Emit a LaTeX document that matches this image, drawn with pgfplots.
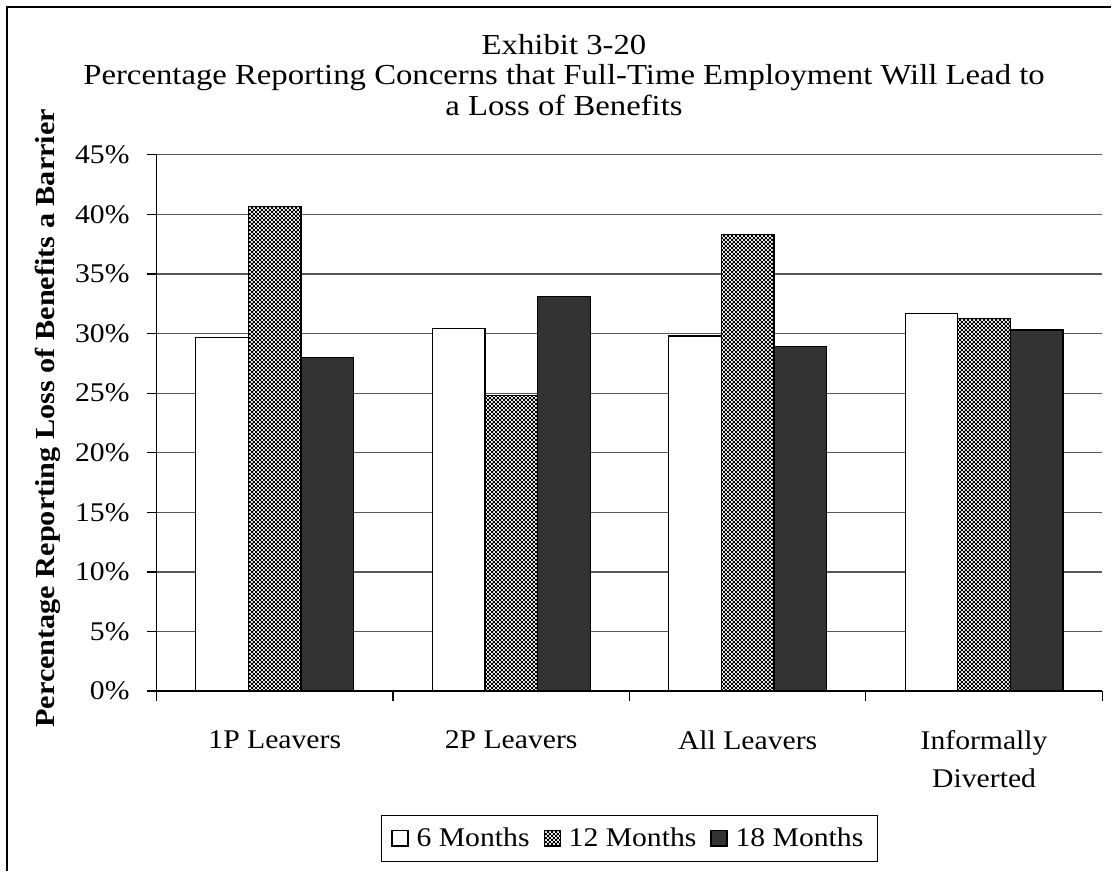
\documentclass[border=0pt]{standalone}
\usepackage{fontspec}
\setmainfont{Liberation Serif}[FakeStretch=1.1]
\newfontfamily\titlefont{Liberation Serif}[FakeStretch=1.13]
\usepackage{pgfplots}
\pgfplotsset{compat=1.18}
\usetikzlibrary{patterns}
\pgfdeclarepatternformonly{finechecker}{\pgfpointorigin}{\pgfqpoint{2bp}{2bp}}{\pgfqpoint{2bp}{2bp}}{%
  \pgfpathrectangle{\pgfpointorigin}{\pgfqpoint{1.1bp}{1.1bp}}%
  \pgfpathrectangle{\pgfqpoint{1bp}{1bp}}{\pgfqpoint{1.1bp}{1.1bp}}%
  \pgfusepath{fill}}
\definecolor{darkbar}{HTML}{333333}
\pgfplotstableread{
x  m6   m12  m18
0  29.7 40.7 28.0
1  30.4 24.8 33.1
2  29.8 38.3 28.9
3  31.7 31.3 30.3
}\datatable
\begin{document}
\begin{tikzpicture}
\path (0bp,0bp) rectangle (556bp,436bp);
\draw[line width=1bp] (3.5bp,0bp) -- (3.5bp,432.5bp) -- (556bp,432.5bp);
\node[font=\titlefont\fontsize{14.5bp}{15bp}\selectfont, anchor=base, inner sep=0pt] at (282.25bp,408.85bp) {Exhibit 3-20};
\node[font=\titlefont\fontsize{14.5bp}{15bp}\selectfont, anchor=base, inner sep=0pt] at (282.25bp,393.5bp) {Percentage Reporting Concerns that Full-Time Employment Will Lead to};
\node[font=\titlefont\fontsize{14.5bp}{15bp}\selectfont, anchor=base, inner sep=0pt] at (282.25bp,378.15bp) {a Loss of Benefits};
\begin{axis}[
  at={(78.35bp,90.15bp)}, anchor=south west,
  scale only axis, width=473.3bp, height=268.35bp,
  ybar=0pt, bar width=0.2226,
  ymin=0, ymax=45, xmin=-0.5, xmax=3.5,
  ytick={0,5,...,45},
  yticklabel={\pgfmathparse{int(round(\tick))}\pgfmathresult\%},
  xtick={-0.5,0.5,1.5,2.5,3.5},
  xticklabels={1P Leavers,2P Leavers,All Leavers,{Informally\\Diverted}},
  x tick label as interval,
  axis x line*=bottom, axis y line*=left,
  axis line style={black, line width=0.7bp, -},
  ymajorgrids, grid style={black!65, line width=0.6bp},
  tick align=outside, major tick length=5bp,
  tick style={black, line width=0.6bp},
  yticklabel shift=8.35bp,
  yticklabel style={font=\fontsize{13.5bp}{16bp}\selectfont, inner sep=0pt, anchor=east},
  xticklabel style={font=\fontsize{13.5bp}{18.85bp}\selectfont, inner sep=0pt, anchor=north, align=center, yshift=-14.65bp},
  ylabel={Percentage Reporting Loss of Benefits a Barrier},
  ylabel style={font=\fontsize{13.75bp}{16bp}\selectfont\bfseries, at={(axis description cs:-0.1148,0.5087)}, anchor=center},
  legend columns=3,
  legend image code/.code={\draw[#1] (0bp,-3.7bp) rectangle (8bp,4.3bp); \path (10bp,0bp);},
  legend style={at={(axis description cs:0.5,0)}, anchor=north, yshift=-62.15bp,
    draw=black, line width=0.6bp, font=\fontsize{13.5bp}{16bp}\selectfont,
    inner xsep=5bp, inner ysep=4bp,
    /tikz/every even column/.append style={column sep=5bp}},
]
\addplot[fill=white, draw=black, line width=0.6bp] table[x=x,y=m6] {\datatable};
\addlegendentry{6 Months}
\addplot[fill=white, draw=black, line width=0.6bp, postaction={pattern=finechecker}] table[x=x,y=m12] {\datatable};
\addlegendentry{12 Months}
\addplot[fill=darkbar, draw=black, line width=0.6bp] table[x=x,y=m18] {\datatable};
\addlegendentry{18 Months}
\end{axis}
\end{tikzpicture}
\end{document}
